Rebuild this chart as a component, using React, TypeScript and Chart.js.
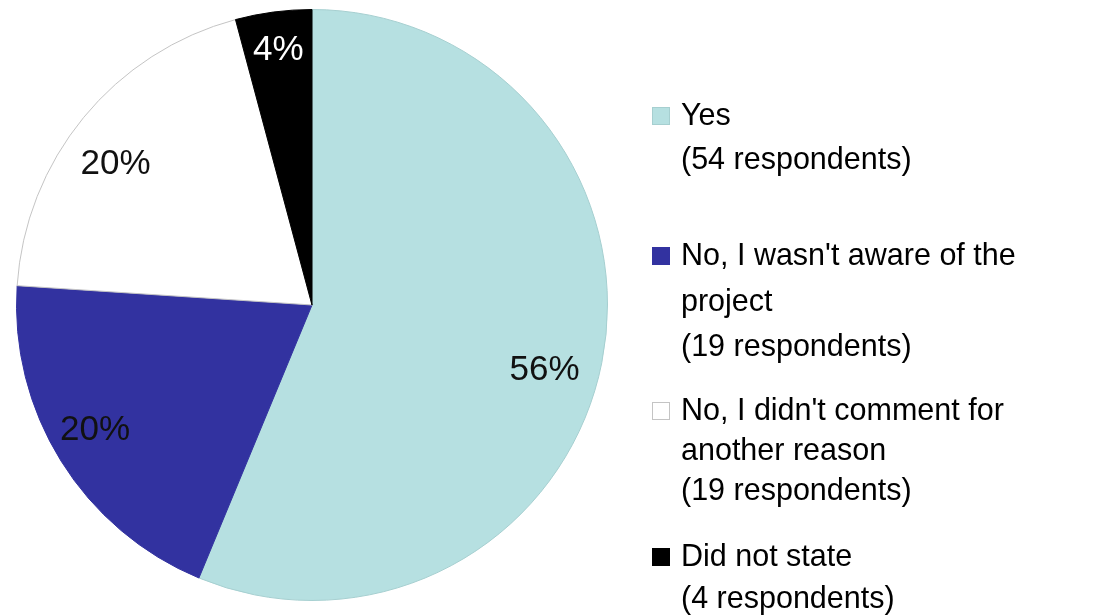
import React, { useEffect, useRef } from "react";
import { Chart, registerables } from "chart.js";

Chart.register(...registerables);

const categories = [
  "Yes",
  "No, I wasn't aware of the project",
  "No, I didn't comment for another reason",
  "Did not state",
];
const respondents = [54, 19, 19, 4];
const percentLabels = ["56%", "20%", "20%", "4%"];
const legendLines = [
  ["Yes", "(54 respondents)"],
  ["No, I wasn't aware of the", "project", "(19 respondents)"],
  ["No, I didn't comment for", "another reason", "(19 respondents)"],
  ["Did not state", "(4 respondents)"],
];
const sliceColors = ["#b6e0e1", "#3232a0", "#ffffff", "#000000"];
const sliceBorders = ["#a6cfd0", "#3232a0", "#c4c4c4", "#000000"];
const labelColors = ["#111111", "#111111", "#111111", "#ffffff"];

// layout constants (not data)
const labelRadiusFactor = [0.813, 0.84, 0.826, 0.875];
const labelAngleShiftDeg = [3.2, 2.8, -3, 0];
const labelYNudge = [5, 5, 4, 2];
const legendItemY = [116, 256, 411, 557];
const legendLineHeight = [44, 45.5, 40, 42];
const FONT = "'Liberation Sans', Arial, sans-serif";

const labelPlugin = {
  id: "sliceLabels",
  afterDatasetsDraw(chart: any) {
    const ctx = chart.ctx;
    const meta = chart.getDatasetMeta(0);
    ctx.save();
    ctx.font = `35px ${FONT}`;
    ctx.textAlign = "center";
    ctx.textBaseline = "middle";
    meta.data.forEach((arc: any, i: number) => {
      const { x, y, startAngle, endAngle, outerRadius } = arc.getProps(
        ["x", "y", "startAngle", "endAngle", "outerRadius"],
        true
      );
      const mid = (startAngle + endAngle) / 2 + (labelAngleShiftDeg[i] * Math.PI) / 180;
      const r = outerRadius * labelRadiusFactor[i];
      ctx.fillStyle = labelColors[i];
      ctx.fillText(percentLabels[i], x + Math.cos(mid) * r, y + Math.sin(mid) * r + labelYNudge[i]);
    });
    ctx.restore();
  },
};

const legendPlugin = {
  id: "sideLegend",
  afterDraw(chart: any) {
    const ctx = chart.ctx;
    ctx.save();
    ctx.font = `30.5px ${FONT}`;
    ctx.textAlign = "left";
    ctx.textBaseline = "middle";
    legendLines.forEach((lines, i) => {
      const y0 = legendItemY[i];
      ctx.fillStyle = sliceColors[i];
      ctx.fillRect(652, y0 - 9, 18, 18);
      ctx.strokeStyle = sliceBorders[i];
      ctx.lineWidth = 1;
      ctx.strokeRect(652.5, y0 - 8.5, 17, 17);
      ctx.fillStyle = "#000000";
      lines.forEach((t, j) => {
        ctx.fillText(t, 681, y0 + j * legendLineHeight[i] + 1);
      });
    });
    ctx.restore();
  },
};

export default function App() {
  const ref = useRef<HTMLCanvasElement | null>(null);
  useEffect(() => {
    if (!ref.current) return;
    const chart = new Chart(ref.current, {
      type: "pie",
      data: {
        labels: categories,
        datasets: [
          {
            data: respondents,
            backgroundColor: sliceColors,
            borderColor: sliceBorders,
            borderWidth: 1,
          },
        ],
      },
      options: {
        animation: false,
        responsive: true,
        maintainAspectRatio: false,
        layout: { padding: { left: 16, right: 490, top: 9, bottom: 14 } },
        plugins: {
          legend: { display: false },
          tooltip: { enabled: false },
        },
      },
      plugins: [labelPlugin, legendPlugin],
    });
    return () => chart.destroy();
  }, []);
  return (
    <div
      style={{
        position: "fixed",
        left: 0,
        top: 0,
        width: 1098,
        height: 615,
        background: "#ffffff",
      }}
    >
      <canvas ref={ref} />
    </div>
  );
}
